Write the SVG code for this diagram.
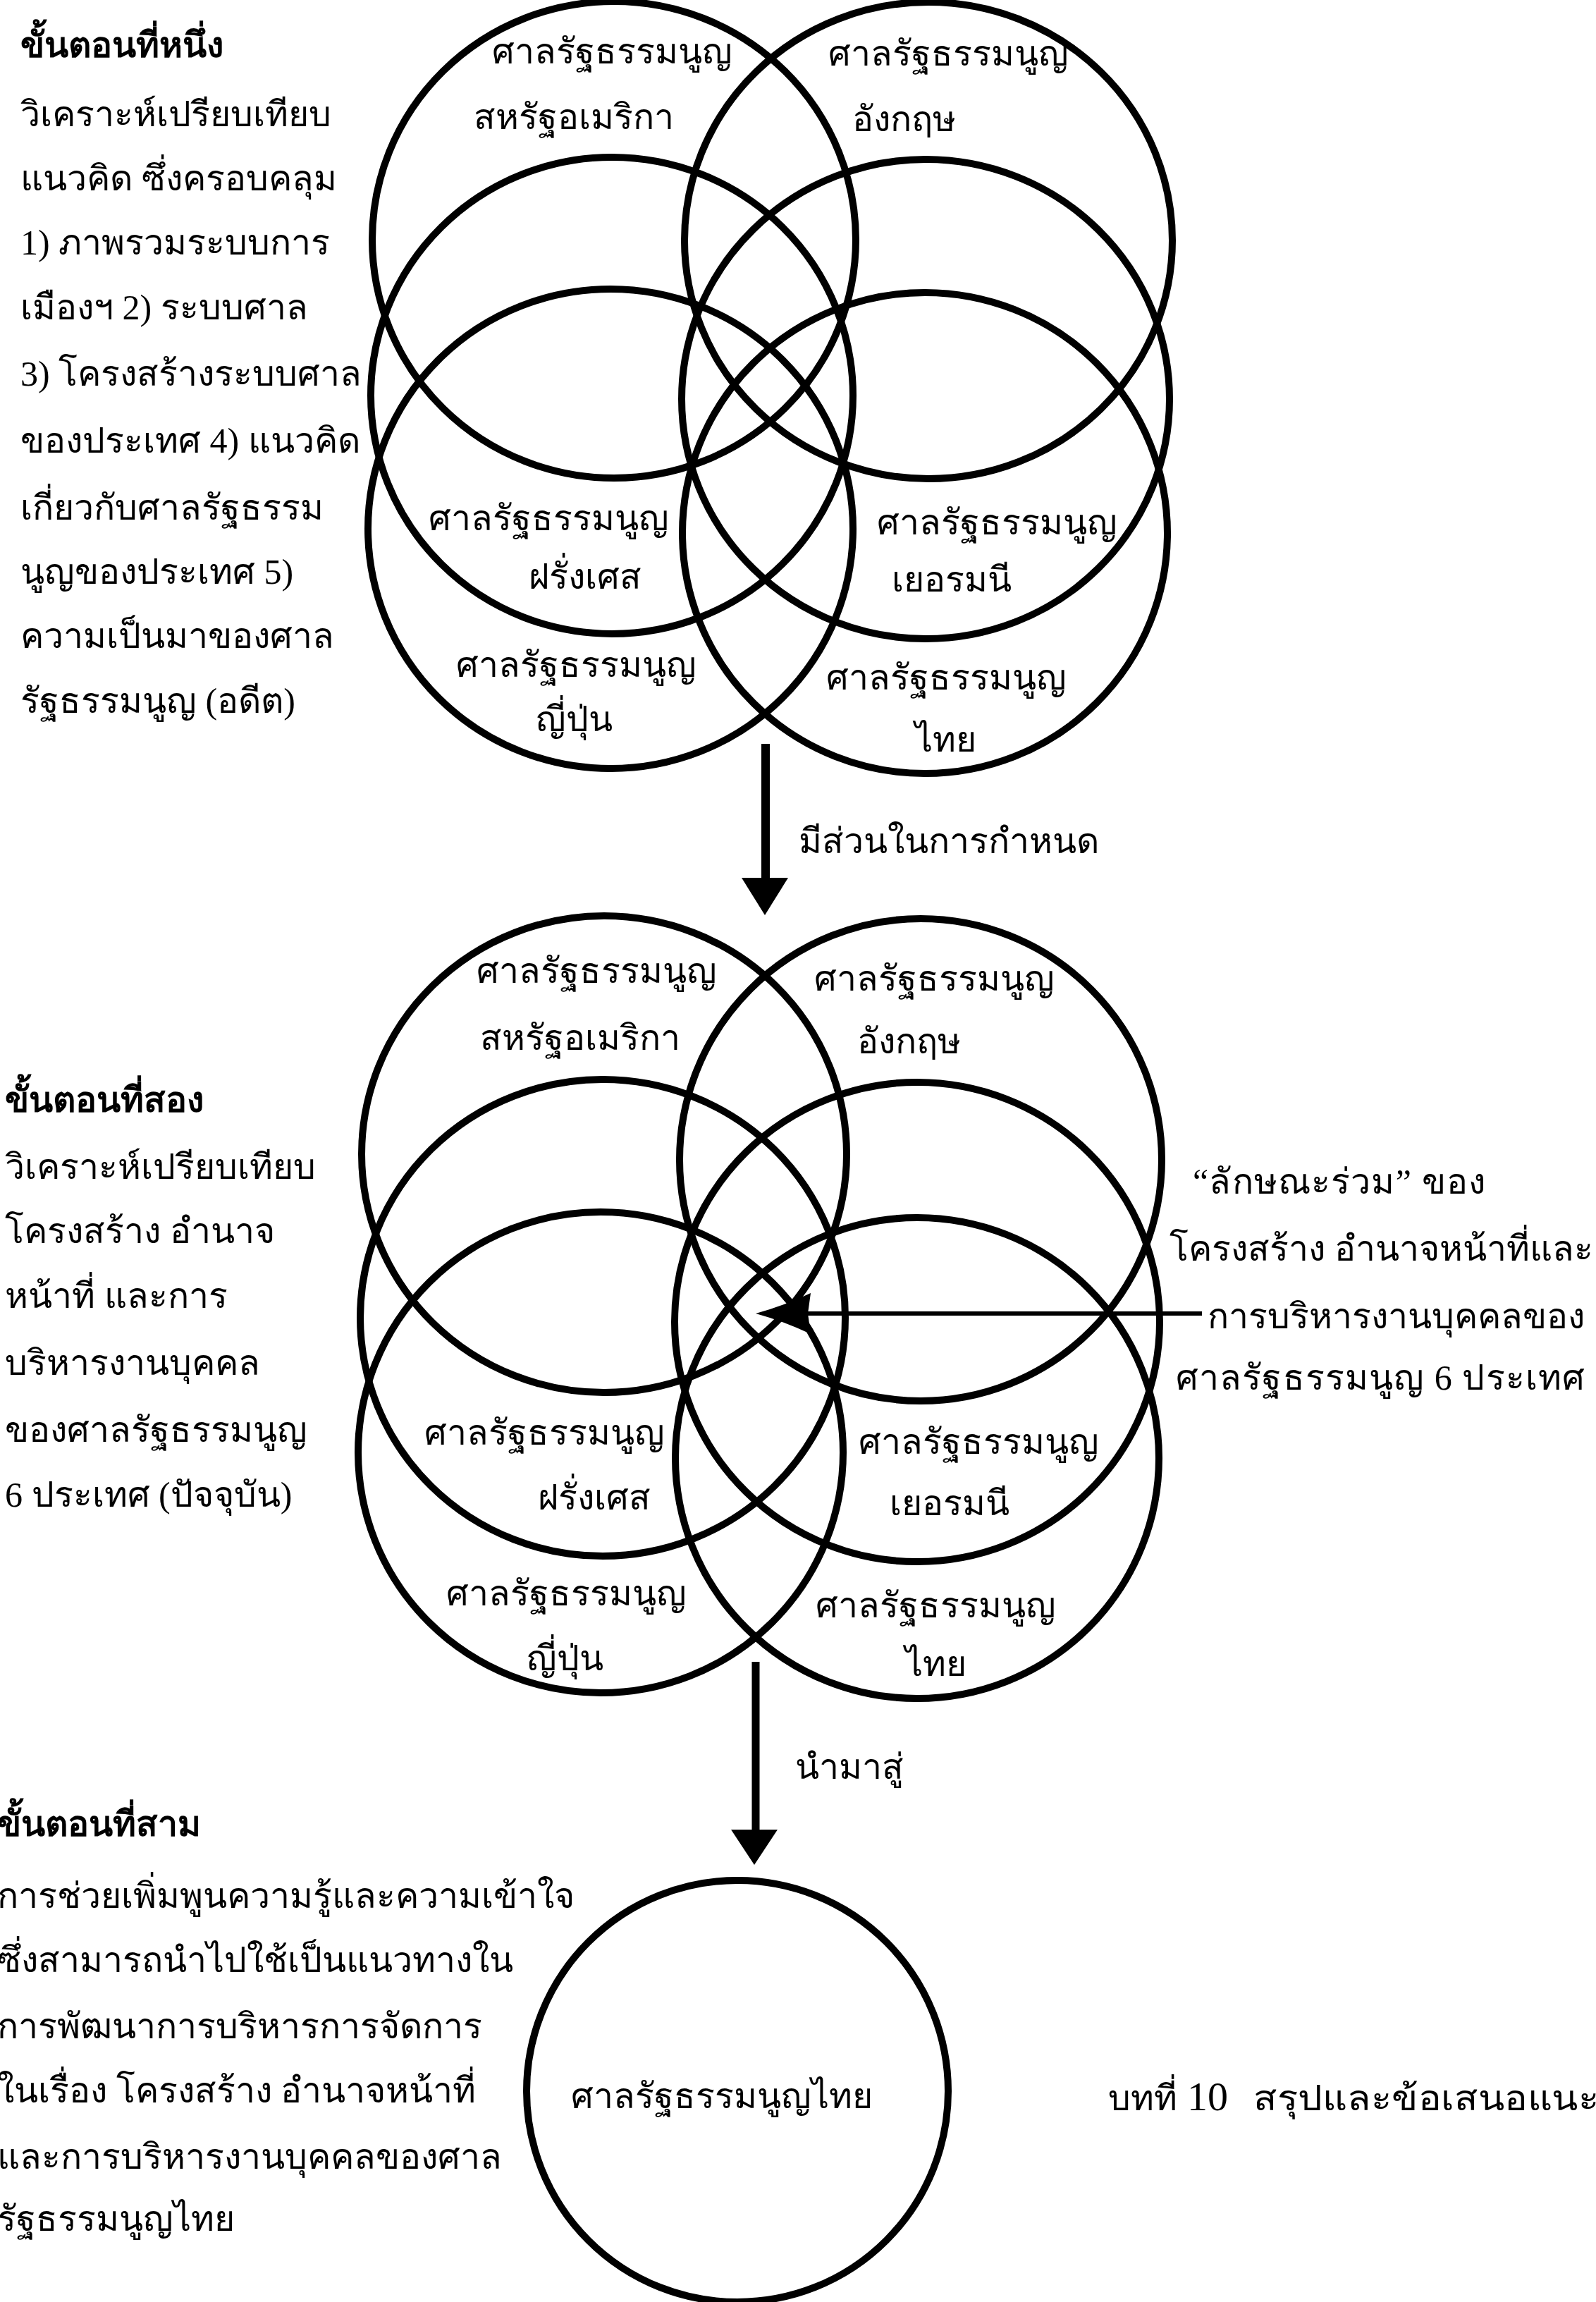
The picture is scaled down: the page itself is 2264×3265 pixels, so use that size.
<svg xmlns="http://www.w3.org/2000/svg" width="2264" height="3265" viewBox="0 0 2264 3265">
<style>
  .c { fill: none; stroke: #000; stroke-width: 10; }
  .t { font-family: 'Liberation Serif', 'Noto Sans', serif; font-size: 50px; fill: #000; }
  .m { text-anchor: middle; }
  .b { font-weight: bold; }
  .ln { stroke: #000; fill: none; }
</style>
<rect x="0" y="0" width="2264" height="3265" fill="#fff"/>

<!-- Step 1 description -->
<g id="step1-text" class="t">
  <text x="29" y="81" class="b">ขั้นตอนที่หนึ่ง</text>
  <text x="29" y="179">วิเคราะห์เปรียบเทียบ</text>
  <text x="29" y="270">แนวคิด ซึ่งครอบคลุม</text>
  <text x="29" y="361">1) ภาพรวมระบบการ</text>
  <text x="29" y="453">เมืองฯ 2) ระบบศาล</text>
  <text x="29" y="547">3) โครงสร้างระบบศาล</text>
  <text x="29" y="642">ของประเทศ 4) แนวคิด</text>
  <text x="29" y="737">เกี่ยวกับศาลรัฐธรรม</text>
  <text x="29" y="828">นูญของประเทศ 5)</text>
  <text x="29" y="919">ความเป็นมาของศาล</text>
  <text x="29" y="1011">รัฐธรรมนูญ (อดีต)</text>
</g>

<!-- Top diagram -->
<g id="t-usa"><ellipse class="c" cx="871" cy="340" rx="343" ry="338"/>
  <text class="t m" x="868" y="90">ศาลรัฐธรรมนูญ</text><text class="t m" x="814" y="183">สหรัฐอเมริกา</text></g>
<g id="t-eng"><ellipse class="c" cx="1317" cy="341" rx="346" ry="338"/>
  <text class="t m" x="1345" y="93">ศาลรัฐธรรมนูญ</text><text class="t m" x="1282" y="186">อังกฤษ</text></g>
<g id="t-fra"><ellipse class="c" cx="868" cy="561" rx="342" ry="338"/>
  <text class="t m" x="778" y="752">ศาลรัฐธรรมนูญ</text><text class="t m" x="830" y="835">ฝรั่งเศส</text></g>
<g id="t-ger"><ellipse class="c" cx="1313" cy="566" rx="346" ry="340"/>
  <text class="t m" x="1414" y="758">ศาลรัฐธรรมนูญ</text><text class="t m" x="1350" y="839">เยอรมนี</text></g>
<g id="t-jpn"><ellipse class="c" cx="866" cy="750" rx="344" ry="340"/>
  <text class="t m" x="817" y="960">ศาลรัฐธรรมนูญ</text><text class="t m" x="814" y="1037">ญี่ปุ่น</text></g>
<g id="t-tha"><ellipse class="c" cx="1312" cy="756" rx="344" ry="341"/>
  <text class="t m" x="1342" y="978">ศาลรัฐธรรมนูญ</text><text class="t m" x="1341" y="1066">ไทย</text></g>

<!-- Step 2 description -->
<g id="step2-text" class="t">
  <text x="7" y="1577" class="b">ขั้นตอนที่สอง</text>
  <text x="7" y="1672">วิเคราะห์เปรียบเทียบ</text>
  <text x="7" y="1763">โครงสร้าง อำนาจ</text>
  <text x="7" y="1855">หน้าที่ และการ</text>
  <text x="7" y="1950">บริหารงานบุคคล</text>
  <text x="7" y="2045">ของศาลรัฐธรรมนูญ</text>
  <text x="7" y="2137">6 ประเทศ (ปัจจุบัน)</text>
</g>

<!-- Middle diagram -->
<g id="m-usa"><ellipse class="c" cx="857" cy="1637" rx="344" ry="338"/>
  <text class="t m" x="846" y="1394">ศาลรัฐธรรมนูญ</text><text class="t m" x="823" y="1489">สหรัฐอเมริกา</text></g>
<g id="m-eng"><ellipse class="c" cx="1306" cy="1645" rx="342" ry="342"/>
  <text class="t m" x="1325" y="1405">ศาลรัฐธรรมนูญ</text><text class="t m" x="1289" y="1494">อังกฤษ</text></g>
<g id="m-fra"><ellipse class="c" cx="855" cy="1869" rx="344" ry="338"/>
  <text class="t m" x="772" y="2049">ศาลรัฐธรรมนูญ</text><text class="t m" x="843" y="2141">ฝรั่งเศส</text></g>
<g id="m-ger"><ellipse class="c" cx="1301" cy="1875" rx="344" ry="340"/>
  <text class="t m" x="1388" y="2062">ศาลรัฐธรรมนูญ</text><text class="t m" x="1347" y="2149">เยอรมนี</text></g>
<g id="m-jpn"><ellipse class="c" cx="852" cy="2060" rx="344" ry="341"/>
  <text class="t m" x="803" y="2277">ศาลรัฐธรรมนูญ</text><text class="t m" x="801" y="2369">ญี่ปุ่น</text></g>
<g id="m-tha"><ellipse class="c" cx="1301" cy="2068" rx="343" ry="341"/>
  <text class="t m" x="1327" y="2294">ศาลรัฐธรรมนูญ</text><text class="t m" x="1327" y="2377">ไทย</text></g>

<!-- Common characteristics note -->
<g id="common-note" class="t">
  <text x="1692" y="1693" textLength="415" lengthAdjust="spacing">“ลักษณะร่วม” ของ</text>
  <text x="1659" y="1788">โครงสร้าง อำนาจหน้าที่และ</text>
  <text x="1713" y="1884">การบริหารงานบุคคลของ</text>
  <text x="1668" y="1971" textLength="580" lengthAdjust="spacing">ศาลรัฐธรรมนูญ 6 ประเทศ</text>
</g>

<!-- Step 3 description -->
<g id="step3-text" class="t">
  <text x="-4" y="2604" class="b">ขั้นตอนที่สาม</text>
  <text x="-4" y="2706">การช่วยเพิ่มพูนความรู้และความเข้าใจ</text>
  <text x="-4" y="2797">ซึ่งสามารถนำไปใช้เป็นแนวทางใน</text>
  <text x="-4" y="2891">การพัฒนาการบริหารการจัดการ</text>
  <text x="-4" y="2982">ในเรื่อง โครงสร้าง อำนาจหน้าที่</text>
  <text x="-4" y="3076">และการบริหารงานบุคคลของศาล</text>
  <text x="-4" y="3164">รัฐธรรมนูญไทย</text>
</g>

<!-- Final node -->
<g id="final-thai"><circle class="c" cx="1046" cy="2966" r="299"/>
  <text class="t m" x="1024" y="2990">ศาลรัฐธรรมนูญไทย</text></g>

<g id="chapter-note" class="t">
  <text x="1572" y="2993">บทที่</text>
  <text x="1684" y="2993" font-size="58">10</text>
  <text x="1778" y="2993" textLength="490" lengthAdjust="spacingAndGlyphs">สรุปและข้อเสนอแนะ</text>
</g>

<!-- Connectors -->
<g id="connectors">
  <line class="ln" x1="1086" y1="1055" x2="1086" y2="1250" stroke-width="12"/>
  <polygon points="1052,1245 1118,1245 1085,1298" fill="#000"/>
  <text class="t" x="1133" y="1210">มีส่วนในการกำหนด</text>

  <line class="ln" x1="1140" y1="1863" x2="1705" y2="1863" stroke-width="6"/>
  <path d="M1072,1863 Q1112,1852 1150,1834 L1146,1863 L1150,1892 Q1112,1874 1072,1863 Z" fill="#000"/>

  <line class="ln" x1="1072" y1="2357" x2="1072" y2="2600" stroke-width="11"/>
  <polygon points="1037,2595 1103,2595 1070,2645" fill="#000"/>
  <text class="t" x="1128" y="2523">นำมาสู่</text>
</g>
</svg>
